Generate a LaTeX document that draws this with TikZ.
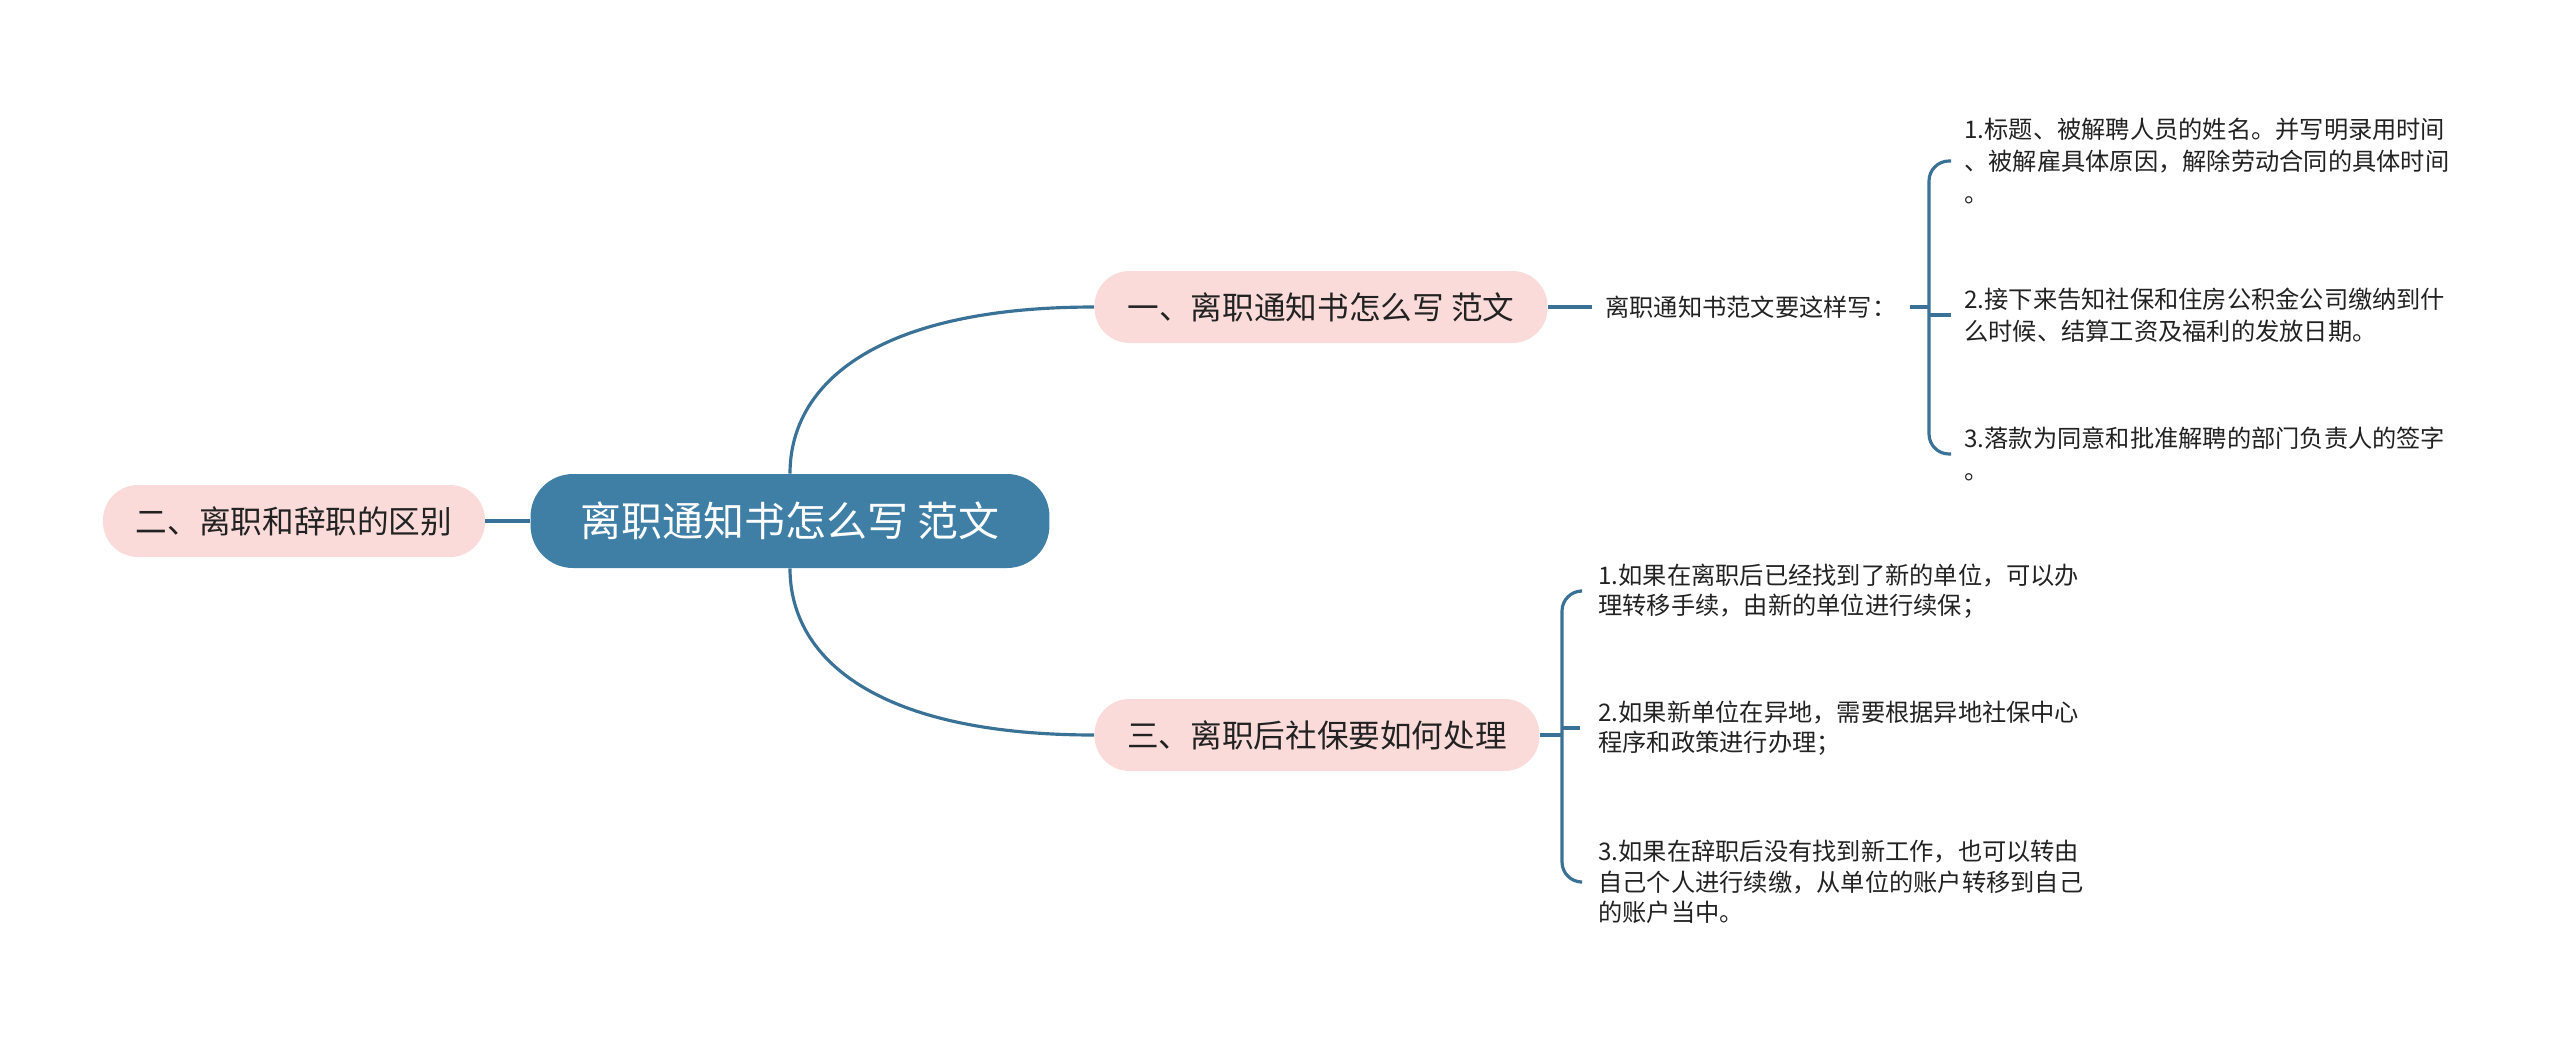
\documentclass[tikz,border=0pt]{standalone}
\usepackage{fontspec}
\setmainfont{Noto Sans CJK SC}
\usepackage{tikz}
\usepackage{xcolor}

\definecolor{lineblue}{RGB}{58,113,150}
\definecolor{rootblue}{RGB}{63,127,166}
\definecolor{pinkfill}{RGB}{250,219,218}
\definecolor{inkgray}{RGB}{34,34,34}

\tikzset{
  link/.style={draw=lineblue, line width=1.8pt},
  rootbox/.style={fill=rootblue, text=white, rounded corners=0.85cm,
    minimum height=1.88cm, font=\fontsize{23.3pt}{28pt}\selectfont},
  branch/.style={fill=pinkfill, text=inkgray, rounded corners=0.7cm,
    minimum height=1.44cm, font=\fontsize{18pt}{22pt}\selectfont},
  note/.style={anchor=west, align=left, inner ysep=0pt, text=inkgray},
}

\begin{document}
\begin{tikzpicture}[x=0.02cm, y=-0.02cm]

% Canvas (pixel units, y downwards)
\useasboundingbox (0,0) rectangle (2560,1042);

% Root
\node[rootbox, minimum width=10.38cm] (root) at (790,521) {离职通知书怎么写 范文};

% Branches
\node[branch, minimum width=9.06cm] (br1) at (1321,307) {一、离职通知书怎么写 范文};
\node[branch, minimum width=7.64cm] (br2) at (294,521) {二、离职和辞职的区别};
\node[branch, minimum width=8.9cm] (br3) at (1317,735) {三、离职后社保要如何处理};

\draw[link] (root.north) .. controls +(0,-92) and +(-215,0) .. (br1.west);
\draw[link] (root.south) .. controls +(0,92) and +(-215,0) .. (br3.west);
\draw[link] (root.west) -- (br2.east);

% First branch: intro line and its three points
\node[note, inner xsep=0.26cm, font=\fontsize{13.8pt}{16pt}\selectfont]
  (intro) at (1592,307) {离职通知书范文要这样写：};
\draw[link] (br1.east) -- (intro.west);

\begin{scope}[every node/.append style={note, inner xsep=0.26cm,
    font=\fontsize{13.8pt}{18pt}\selectfont}]
\node (a1) at (1951,161) {1.标题、被解聘人员的姓名。并写明录用时间\\、被解雇具体原因，解除劳动合同的具体时间\\。};
\node (a2) at (1951,315) {2.接下来告知社保和住房公积金公司缴纳到什\\么时候、结算工资及福利的发放日期。};
\node (a3) at (1951,454) {3.落款为同意和批准解聘的部门负责人的签字\\。};
\end{scope}

\coordinate (b1) at (1929,307);
\draw[link] (intro.east) -- (b1);
\draw[link, rounded corners=0.4cm] (a1.west) -| (b1) |- (a3.west);
\draw[link] (b1 |- a2.west) -- (a2.west);

% Third branch: three points
\begin{scope}[every node/.append style={note, inner xsep=0.36cm,
    font=\fontsize{13.8pt}{17.4pt}\selectfont}]
\node (c1) at (1580,591) {1.如果在离职后已经找到了新的单位，可以办\\理转移手续，由新的单位进行续保；};
\node (c2) at (1580,728) {2.如果新单位在异地，需要根据异地社保中心\\程序和政策进行办理；};
\node (c3) at (1580,882) {3.如果在辞职后没有找到新工作，也可以转由\\自己个人进行续缴，从单位的账户转移到自己\\的账户当中。};
\end{scope}

\coordinate (b2) at (1562,735);
\draw[link] (br3.east) -- (b2);
\draw[link, rounded corners=0.4cm] (c1.west) -| (b2) |- (c3.west);
\draw[link] (b2 |- c2.west) -- (c2.west);

\end{tikzpicture}
\end{document}
